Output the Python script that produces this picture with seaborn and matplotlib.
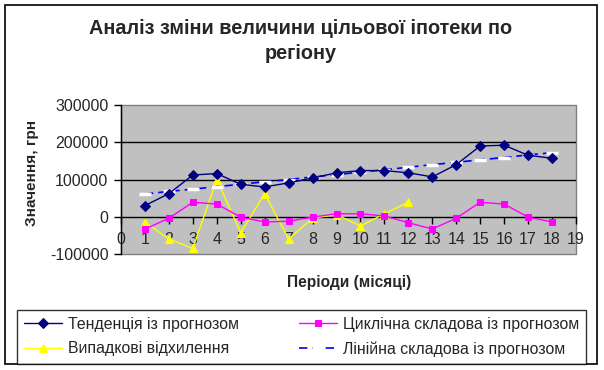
import matplotlib
matplotlib.use("Agg")
import matplotlib.pyplot as plt
from matplotlib.patches import Rectangle
import seaborn as sns

# values
periods = list(range(1, 19))
trend = [30000, 62000, 112000, 116000, 87000, 80000, 91000, 104000, 118000,
         124000, 124000, 118000, 107000, 140000, 190000, 192000, 165000, 157000]
cyclic = [-33000, -4000, 39000, 34000, -1000, -14000, -12000, -1000, 8000,
          8000, 2000, -16000, -33000, -4000, 39000, 34000, -1000, -14000]
random_periods = list(range(1, 13))
random_dev = [-14000, -60000, -85000, 100000, -43000, 62000, -60000, -4000, 6000,
              -25000, 8000, 39000]
linear = [61000, 68000, 74000, 81000, 87000, 94000, 100000, 107000, 113000,
          120000, 126000, 133000, 140000, 146000, 153000, 159000, 166000, 172000]

title = "Аналіз зміни величини цільової іпотеки по\nрегіону"
x_label = "Періоди (місяці)"
y_label = "Значення, грн"
x_ticks = list(range(0, 20))
y_ticks = [-100000, 0, 100000, 200000, 300000]

sns.set_theme(style="white")
plt.rcParams['font.family'] = ['Liberation Sans', 'DejaVu Sans']

W, H = 604, 370
fig = plt.figure(figsize=(W / 100, H / 100), dpi=100)
fig.patch.set_facecolor('white')
# outer chart border
fig.patches.append(Rectangle((5 / W, 1 - 364 / H), 592 / W, 359 / H,
                             transform=fig.transFigure, fill=False,
                             edgecolor='black', linewidth=1.2))

left, right, top, bottom = 121, 576, 105, 254
ax = fig.add_axes([left / W, 1 - bottom / H, (right - left) / W, (bottom - top) / H])
ax.set_facecolor('#C0C0C0')
ax.patch.set_edgecolor('#808080')
ax.patch.set_linewidth(1.0)

for yv in [100000, 200000]:
    ax.axhline(yv, color='black', linewidth=1.0, zorder=1)

sns.lineplot(x=periods, y=trend, ax=ax, color='#000080', marker='D', markersize=5,
             markeredgecolor='#000080', linewidth=1.0, label='Тенденція із прогнозом', zorder=4)
sns.lineplot(x=random_periods, y=random_dev, ax=ax, color='#FFFF00', marker='^', markersize=6,
             markeredgecolor='#FFFF00', linewidth=1.0, label='Випадкові відхилення', zorder=3)
sns.lineplot(x=periods, y=cyclic, ax=ax, color='#FF00FF', marker='s', markersize=5,
             markeredgecolor='#FF00FF', linewidth=1.0, label='Циклічна складова із прогнозом', zorder=3)
sns.lineplot(x=periods, y=linear, ax=ax, color='#0000FF', marker='_', markersize=8,
             markeredgewidth=2.5, linestyle=(0, (5, 3)), linewidth=1.2,
             label='Лінійна складова із прогнозом', zorder=3)

ax.set_xlim(0, 19)
ax.set_ylim(-100000, 300000)
ax.set_xticks(x_ticks)
ax.set_xticklabels([str(t) for t in x_ticks])
ax.set_yticks(y_ticks)
ax.set_yticklabels([str(t) for t in y_ticks])
ax.set_xlabel('')
ax.set_ylabel('')

for s in ['top', 'right']:
    ax.spines[s].set_visible(False)
ax.spines['left'].set_color('black')
ax.spines['left'].set_linewidth(1.0)
ax.spines['bottom'].set_position(('data', 0))
ax.spines['bottom'].set_color('black')
ax.spines['bottom'].set_linewidth(1.0)
ax.spines['bottom'].set_zorder(2)
ax.tick_params(axis='x', direction='out', length=5, width=1, color='black',
               labelsize=11.5, pad=6, bottom=True)
ax.tick_params(axis='y', direction='out', length=5, width=1, color='black',
               labelsize=11.5, pad=4, left=True)

fig.text(301 / W, 1 - 41 / H, title, ha='center', va='center', fontsize=14.3,
         fontweight='bold', linespacing=1.4)
fig.text(349 / W, 1 - 282 / H, x_label, ha='center', va='center', fontsize=11.2,
         fontweight='bold')
fig.text(32 / W, 1 - 173 / H, y_label, ha='center', va='center', fontsize=11,
         fontweight='bold', rotation=90)

handles, labels = ax.get_legend_handles_labels()
ax.get_legend().remove()
leg = fig.legend(handles, labels, ncol=2, loc='upper left',
                 bbox_to_anchor=(17 / W, 1 - 310 / H, 569 / W, 0.0), mode='expand',
                 fontsize=11.4, frameon=True, fancybox=False, handlelength=2.4,
                 handletextpad=0.38, borderpad=0.42, labelspacing=0.62, borderaxespad=0)
leg.get_frame().set_edgecolor('black')
leg.get_frame().set_linewidth(1.0)

fig.savefig('out.png', dpi=100)
